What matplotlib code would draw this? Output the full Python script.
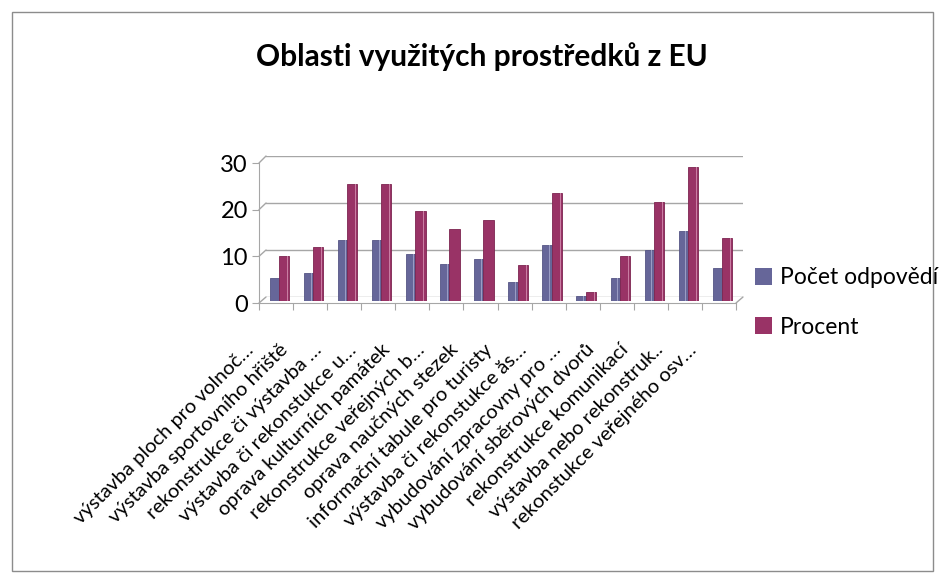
import matplotlib.pyplot as plt
from matplotlib.patches import Rectangle, ConnectionPatch, Patch
from matplotlib.transforms import ScaledTranslation

# ==========================================================
# DATA
# ==========================================================
categories = [
    "výstavba ploch pro volnoč…",
    "výstavba sportovního hřiště",
    "rekonstrukce či výstavba …",
    "výstavba či rekonstukce u…",
    "oprava kulturních památek",
    "rekonstrukce veřejných b…",
    "oprava naučných stezek",
    "informační tabule pro turisty",
    "výstavba či rekonstukce ăs…",
    "vybudování zpracovny pro …",
    "vybudování sběrových dvorů",
    "rekonstrukce komunikací",
    "výstavba nebo rekonstruk..",
    "rekonstukce veřejného osv…",
]
pocet = [5, 6, 13, 13, 10, 8, 9, 4, 12, 1, 5, 11, 15, 7]
procent = [9.6, 11.5, 25.0, 25.0, 19.2, 15.4, 17.3, 7.7, 23.1, 1.9, 9.6, 21.2, 28.8, 13.5]
yticks = [0, 10, 20, 30]

title = "Oblasti využitých prostředků z EU"
series_names = ["Počet odpovědí", "Procent"]
c_blue = "#666699"
c_red = "#993366"
grid_c = "#a6a6a6"

plt.rcParams["font.family"] = ["Lato", "DejaVu Sans"]

W, H = 945, 583
fig = plt.figure(figsize=(W / 100, H / 100), dpi=100)


def box(x0, y0, x1, y1):
    # pixel box (top-left origin) -> figure fraction
    return [x0 / W, 1 - y1 / H, (x1 - x0) / W, (y1 - y0) / H]


# outer chart border
fig.patches.append(Rectangle((12 / W, 1 - 571 / H), 921 / W, 559 / H,
                             transform=fig.transFigure, fill=False,
                             edgecolor="#8c8c8c", linewidth=1.0))

n = len(categories)

# ==========================================================
# BACK WALL (gridlines)
# ==========================================================
ax = fig.add_axes(box(266, 156, 743, 297))
ax.set_xlim(0, n)
ax.set_ylim(0, 30)
for v in yticks:
    ax.axhline(v, color=grid_c, linewidth=1.0, zorder=0)
ax.axis("off")

# ==========================================================
# BARS (middle depth plane)
# ==========================================================
bx = fig.add_axes(box(263, 161, 740, 301))
bx.set_xlim(0, n)
bx.set_ylim(0, 30)
bx.axis("off")
xs = range(n)
bx.bar([i + 0.2 for i in xs], pocet, width=0.27, align="edge",
       color=c_blue, edgecolor="#555585", linewidth=0.6)
bx.bar([i + 0.47 for i in xs], procent, width=0.30, align="edge",
       color=c_red, edgecolor="#7d2550", linewidth=0.6)
# light highlight strip on the right side of each bar (3D look)
bx.bar([i + 0.40 for i in xs], pocet, width=0.025, align="edge",
       color="#9a9cc4", linewidth=0)
bx.bar([i + 0.71 for i in xs], procent, width=0.025, align="edge",
       color="#c97ea3", linewidth=0)

# ==========================================================
# FRONT AXES (ticks + labels)
# ==========================================================
fx = fig.add_axes(box(259, 163, 736, 303))
fx.set_xlim(0, n)
fx.set_ylim(0, 30)
fx.patch.set_alpha(0)
for side in ["top", "right"]:
    fx.spines[side].set_visible(False)
for side in ["left", "bottom"]:
    fx.spines[side].set_color(grid_c)
fx.set_yticks(yticks)
fx.set_yticklabels([str(v) for v in yticks], fontsize=17)
fx.set_xticks(range(n + 1))
fx.set_xticklabels([])
fx.tick_params(axis="both", color=grid_c, length=5, direction="out")
fx.tick_params(axis="y", pad=3)

off = ScaledTranslation(-0.31, -0.38, fig.dpi_scale_trans)
for i, lab in enumerate(categories):
    fx.text(i + 0.5, 0, lab, rotation=45, ha="right", va="top",
            rotation_mode="anchor", fontsize=14.5,
            transform=fx.transData + off)

# perspective connectors between front and back
for v in yticks:
    fig.add_artist(ConnectionPatch((0, v), (0, v), coordsA=fx.transData,
                                   coordsB=ax.transData, color=grid_c, linewidth=1.0))
fig.add_artist(ConnectionPatch((n, 0), (n, 0), coordsA=fx.transData,
                               coordsB=ax.transData, color=grid_c, linewidth=1.0))

# ==========================================================
# TITLE + LEGEND
# ==========================================================
fig.text(482 / W, 1 - 57 / H, title, ha="center", va="center",
         fontsize=21.5, fontweight="bold")

handles = [Patch(facecolor=c_blue), Patch(facecolor=c_red)]
fig.legend(handles, series_names, loc="upper left",
           bbox_to_anchor=(746 / W, 1 - 258 / H), frameon=False,
           fontsize=16.5, handlelength=0.75, handleheight=0.75,
           handletextpad=0.35, labelspacing=1.25, borderaxespad=0)

plt.savefig("out.png", dpi=100)
